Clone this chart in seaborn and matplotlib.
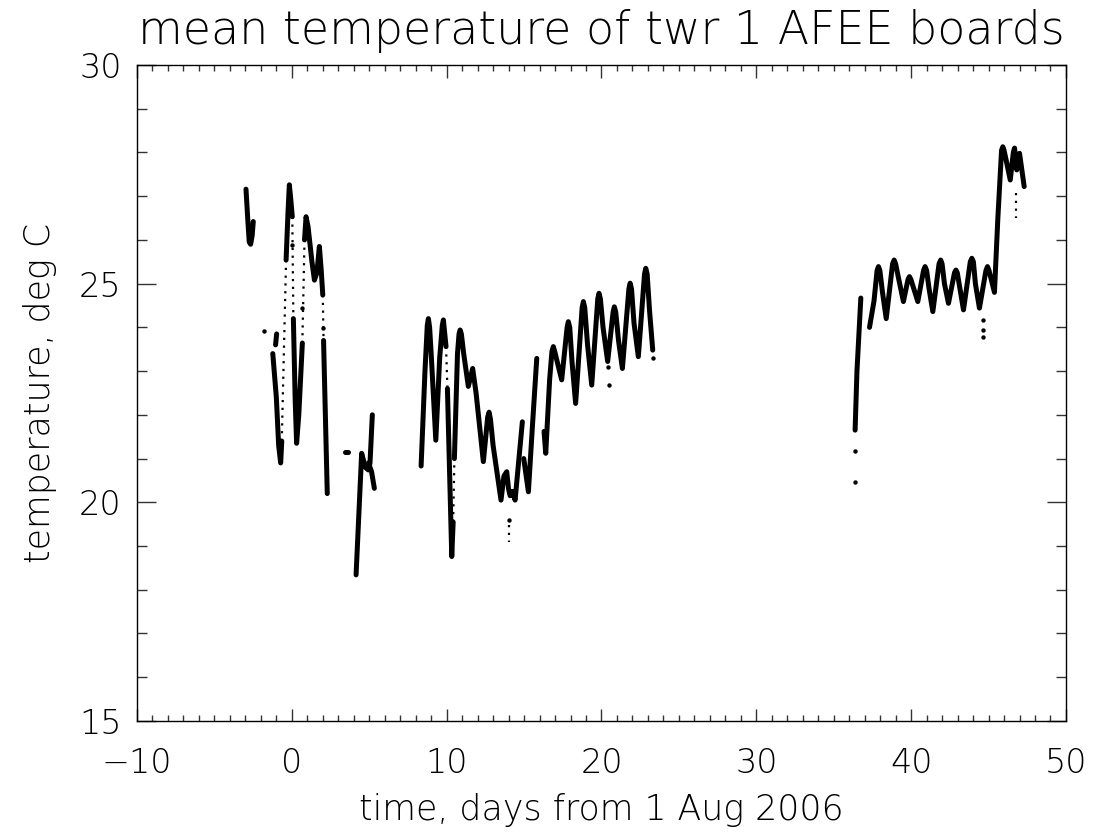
import numpy as np
import pandas as pd
import matplotlib.pyplot as plt
import seaborn as sns
from matplotlib.ticker import MultipleLocator

# ==========================================
# data (days from 1 Aug 2006, deg C)
# ==========================================

# dense (thick) stretches of the trace
seg_a_day = [-2.96, -2.85, -2.75, -2.66, -2.56, -2.49]
seg_a_temp = [27.16, 26.5, 25.95, 25.9, 26.1, 26.42]

seg_b_day = [-1.05, -0.98]
seg_b_temp = [23.6, 23.85]

seg_c_day = [-1.23, -1.0, -0.85, -0.72, -0.65]
seg_c_temp = [23.4, 22.4, 21.3, 20.9, 21.4]

seg_d_day = [-0.37, -0.25, -0.16, -0.06, 0.03]
seg_d_temp = [25.54, 26.6, 27.26, 26.9, 26.53]

seg_e_day = [0.1, 0.22, 0.31, 0.45, 0.68]
seg_e_temp = [24.2, 22.3, 21.35, 22.0, 23.64]

seg_f_day = [0.82, 0.92, 1.05, 1.3, 1.46, 1.62, 1.78, 1.9, 2.0]
seg_f_temp = [26.0, 26.53, 26.3, 25.5, 25.08, 25.25, 25.85, 25.3, 24.74]

seg_g_day = [2.05, 2.29]
seg_g_temp = [23.7, 20.2]

seg_h_day = [3.45, 3.65]
seg_h_temp = [21.16, 21.16]

seg_i_day = [4.15, 4.51, 4.75, 4.94, 5.05, 5.2]
seg_i_temp = [18.34, 21.12, 20.8, 20.74, 20.9, 22.0]

seg_j_day = [4.95, 5.15, 5.33]
seg_j_temp = [20.9, 20.7, 20.32]

seg_k_day = [8.35, 8.6, 8.75, 8.82, 8.9, 9.0, 9.3, 9.55, 9.72, 9.79, 9.96]
seg_k_temp = [20.83, 23.0, 24.05, 24.2, 24.0, 23.4, 21.42, 23.3, 24.05, 24.17, 23.56]

seg_l_day = [10.05, 10.33, 10.42]
seg_l_temp = [22.6, 18.76, 19.55]

seg_m_day = [10.5, 10.7, 10.8, 10.87, 10.95, 11.1, 11.4, 11.68, 11.9, 12.37,
             12.65, 12.74, 12.83, 13.0, 13.51, 13.7, 13.88, 14.0, 14.1,
             14.25, 14.42, 14.89]
seg_m_temp = [21.0, 23.4, 23.85, 23.94, 23.85, 23.4, 22.65, 23.06, 22.5, 20.93,
              21.95, 22.06, 21.9, 21.3, 20.05, 20.6, 20.7, 20.3, 20.15,
              20.25, 20.05, 21.84]

seg_n_day = [14.98, 15.28, 15.55, 15.82]
seg_n_temp = [21.0, 20.24, 21.8, 23.29]

seg_o_day = [16.29, 16.4, 16.65, 16.8, 16.89, 16.98, 17.15, 17.43, 17.78,
             17.86, 17.95, 18.1, 18.33, 18.75, 18.83, 18.92, 19.1, 19.37,
             19.76, 19.84, 19.93, 20.1, 20.4, 20.75, 20.83, 20.92, 21.1,
             21.35, 21.77, 21.85, 21.94, 22.1, 22.38, 22.78, 22.86, 22.95,
             23.1, 23.31]
seg_o_temp = [21.62, 21.12, 22.8, 23.45, 23.56, 23.45, 23.2, 22.8, 24.0,
              24.13, 24.0, 23.2, 22.26, 24.45, 24.59, 24.45, 23.6, 22.68,
              24.65, 24.78, 24.65, 24.0, 23.22, 24.35, 24.47, 24.35, 23.7,
              23.06, 24.88, 25.01, 24.88, 24.1, 23.33, 25.22, 25.35, 25.22,
              24.4, 23.48]

seg_p_day = [36.38, 36.5, 36.75]
seg_p_temp = [21.65, 23.0, 24.67]

seg_q_day = [37.31, 37.6, 37.8, 37.89, 37.98, 38.15, 38.39, 38.8, 38.9,
             39.0, 39.2, 39.5, 39.8, 39.89, 39.98, 40.43, 40.8, 40.9, 41.0,
             41.15, 41.4, 41.8, 41.91, 42.0, 42.15, 42.41, 42.8, 42.89,
             42.98, 43.38, 43.82, 43.92, 44.02, 44.15, 44.41, 44.83, 44.93,
             45.03, 45.38, 45.6, 45.84, 45.92, 46.0, 46.15, 46.4, 46.6,
             46.68, 46.82, 47.0, 47.3]
seg_q_temp = [24.0, 24.6, 25.3, 25.39, 25.3, 24.8, 24.2, 25.45, 25.54,
              25.45, 25.1, 24.59, 25.1, 25.16, 25.1, 24.59, 25.3, 25.39,
              25.3, 24.9, 24.36, 25.45, 25.54, 25.45, 25.0, 24.55, 25.25,
              25.31, 25.25, 24.4, 25.5, 25.58, 25.5, 25.0, 24.44, 25.3,
              25.39, 25.3, 24.8, 26.5, 28.05, 28.13, 28.05, 27.8, 27.37,
              28.0, 28.1, 27.6, 27.98, 27.22]

# sparse (dotted) jumps between the dense stretches
gap_day = [[-0.65, -0.37], [0.03, 0.1], [0.68, 0.82], [2.0, 2.05],
           [9.96, 10.05], [10.42, 10.5], [14.0, 14.0], [44.6, 44.55],
           [46.76, 46.76]]
gap_temp = [[21.4, 25.54], [26.53, 24.2], [23.64, 26.0], [24.74, 23.7],
            [23.56, 22.6], [19.55, 21.0], [19.48, 19.1], [24.8, 24.5],
            [27.07, 26.5]]

# stray single readings
dot_day = [-1.8, 0.01, 0.68, 2.0, 14.0, 20.45, 20.5, 23.3, 36.38, 36.38,
           44.67, 44.67, 44.67]
dot_temp = [23.92, 25.88, 24.44, 23.98, 19.6, 23.1, 22.68, 23.3, 20.47,
            21.18, 24.17, 23.95, 23.78]

# ==========================================
# build long tables
# ==========================================

seg_days = [seg_a_day, seg_b_day, seg_c_day, seg_d_day, seg_e_day, seg_f_day,
            seg_g_day, seg_h_day, seg_i_day, seg_j_day, seg_k_day, seg_l_day,
            seg_m_day, seg_n_day, seg_o_day, seg_p_day, seg_q_day]
seg_temps = [seg_a_temp, seg_b_temp, seg_c_temp, seg_d_temp, seg_e_temp,
             seg_f_temp, seg_g_temp, seg_h_temp, seg_i_temp, seg_j_temp,
             seg_k_temp, seg_l_temp, seg_m_temp, seg_n_temp, seg_o_temp,
             seg_p_temp, seg_q_temp]

rows = []
for i, (d, t) in enumerate(zip(seg_days, seg_temps)):
    for dd, tt in zip(d, t):
        rows.append((i, dd, tt))
df = pd.DataFrame(rows, columns=['seg', 'day', 'temp'])

rows = []
for i, (d, t) in enumerate(zip(gap_day, gap_temp)):
    for dd, tt in zip(d, t):
        rows.append((i, dd, tt))
gaps = pd.DataFrame(rows, columns=['seg', 'day', 'temp'])

dots = pd.DataFrame({'day': dot_day, 'temp': dot_temp})

# ==========================================
# plot
# ==========================================

sns.set_style('ticks')
plt.rcParams['font.family'] = ['DejaVu Sans']
plt.rcParams['font.weight'] = 'light'
plt.rcParams['axes.titleweight'] = 'light'
plt.rcParams['axes.labelweight'] = 'light'
plt.rcParams['text.color'] = 'black'
plt.rcParams['axes.labelcolor'] = 'black'
plt.rcParams['xtick.labelcolor'] = 'black'
plt.rcParams['ytick.labelcolor'] = 'black'

fig = plt.figure(figsize=(10.95, 8.33), dpi=100)
ax = fig.add_axes([0.1251, 0.1345, 0.8484, 0.7875])

sns.lineplot(data=df, x='day', y='temp', units='seg', estimator=None,
             sort=False, color='black', lw=3.6, ax=ax,
             solid_capstyle='round', solid_joinstyle='round')
sns.lineplot(data=gaps, x='day', y='temp', units='seg', estimator=None,
             sort=False, color='black', lw=1.6, linestyle=(0, (1, 2.5)),
             ax=ax)
sns.scatterplot(data=dots, x='day', y='temp', color='black', s=10,
                linewidth=0, ax=ax)

ax.set_xlim(-10, 50)
ax.set_ylim(15, 30)
ax.xaxis.set_major_locator(MultipleLocator(10))
ax.xaxis.set_minor_locator(MultipleLocator(1))
ax.yaxis.set_major_locator(MultipleLocator(5))
ax.yaxis.set_minor_locator(MultipleLocator(1))

for s in ax.spines.values():
    s.set_visible(True)
    s.set_linewidth(1.0)
    s.set_color('black')

ax.tick_params(axis='both', which='both', direction='in', top=True,
               right=True, width=1.0, color='#333333', labelsize=24)
ax.tick_params(axis='x', which='major', length=9, pad=19)
ax.tick_params(axis='x', which='minor', length=4.3)
ax.tick_params(axis='y', which='major', length=13.7, pad=11)
ax.tick_params(axis='y', which='minor', length=7.2)

ax.set_xlabel('time, days from 1 Aug 2006', fontsize=25, labelpad=9)
ax.set_ylabel('temperature, deg C', fontsize=25, labelpad=16)
ax.set_title('mean temperature of twr 1 AFEE boards', fontsize=33, pad=15)

fig.savefig('out.png', dpi=100)
